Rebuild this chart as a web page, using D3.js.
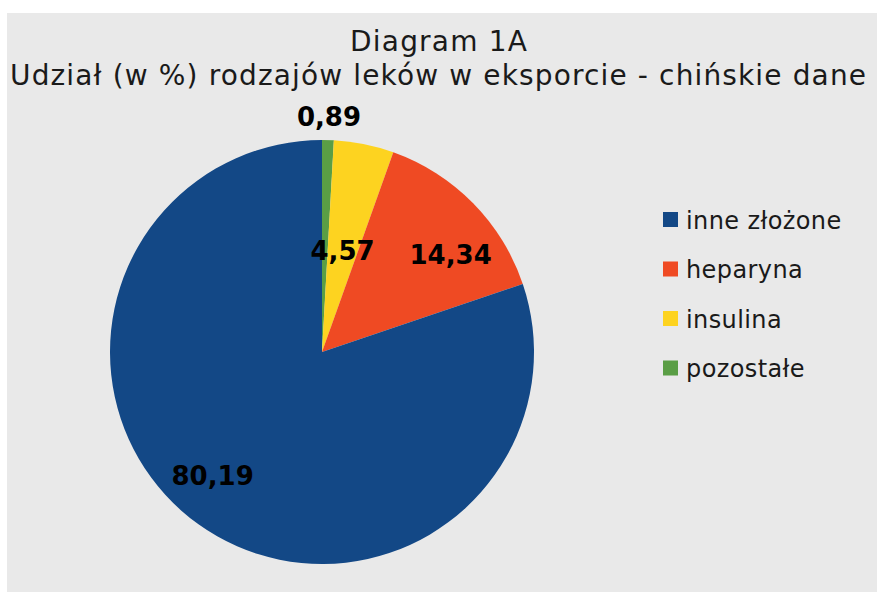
<!DOCTYPE html>
<html>
<head>
<meta charset="utf-8">
<script src="https://cdn.jsdelivr.net/npm/d3@7"></script>
<style>
  body { margin: 0; background: #fff; }
  svg { display: block; }
</style>
</head>
<body>
<div id="chart"></div>
<script>
// chart size
let svgWidth = 877;
let svgHeight = 593;

// data, in drawing order (clockwise from 12 o'clock)
let categories = ["pozostałe", "insulina", "heparyna", "inne złożone"];
let values = [0.89, 4.57, 14.34, 80.19];
let labels = ["0,89", "4,57", "14,34", "80,19"];
let colors = ["#5a9e45", "#fdd320", "#ef4a23", "#134886"];
// legend shows the reverse order
let legendOrder = ["inne złożone", "heparyna", "insulina", "pozostałe"];

// where each data label sits: fraction of radius, fraction of slice angle
let labelRadius = [1.11, 0.49, 0.76, 0.78];
let labelAngle = [0.53, 0.5, 0.645, 0.52];

let svg = d3.select("#chart")
    .append("svg")
    .attr("width", svgWidth)
    .attr("height", svgHeight);

// gray chart area
svg.append("rect")
    .attr("x", 7)
    .attr("y", 13)
    .attr("width", 870)
    .attr("height", 579)
    .attr("fill", "#e9e9e9");

let font = "'DejaVu Sans', Verdana, sans-serif";

// title
svg.append("text")
    .attr("x", 438.5)
    .attr("y", 51)
    .attr("text-anchor", "middle")
    .attr("textLength", 177)
    .attr("lengthAdjust", "spacing")
    .style("font-family", font)
    .style("font-size", "28px")
    .attr("fill", "#1a1a1a")
    .text("Diagram 1A");

svg.append("text")
    .attr("x", 438)
    .attr("y", 85)
    .attr("text-anchor", "middle")
    .attr("textLength", 856)
    .attr("lengthAdjust", "spacing")
    .style("font-family", font)
    .style("font-size", "28px")
    .attr("fill", "#1a1a1a")
    .text("Udział (w %) rodzajów leków w eksporcie - chińskie dane");

let cx = 322, cy = 352, radius = 212;

let data = categories.map((c, i) => ({ name: c, value: values[i], label: labels[i], color: colors[i], lr: labelRadius[i], la: labelAngle[i] }));

let pie = d3.pie()
    .sort(null)
    .value(d => d.value);

let arc = d3.arc()
    .innerRadius(0)
    .outerRadius(radius);

let pieGroup = svg.append("g")
    .attr("transform", `translate(${cx}, ${cy})`);

let arcs = pie(data);

pieGroup.selectAll("path")
    .data(arcs)
    .enter()
    .append("path")
    .attr("d", arc)
    .attr("fill", d => d.data.color);

// data labels
pieGroup.selectAll("text.lbl")
    .data(arcs)
    .enter()
    .append("text")
    .attr("class", "lbl")
    .attr("transform", d => {
        let a = d.startAngle + (d.endAngle - d.startAngle) * d.data.la;
        let r = radius * d.data.lr;
        return `translate(${r * Math.sin(a)}, ${-r * Math.cos(a)})`;
    })
    .attr("text-anchor", "middle")
    .attr("dy", "0.36em")
    .style("font-family", font)
    .style("font-size", "26px")
    .style("font-weight", "bold")
    .attr("fill", "#000")
    .text(d => d.data.label);

// legend
let legend = svg.append("g")
    .attr("transform", "translate(663, 220)");

let legendItems = legend.selectAll("g")
    .data(legendOrder)
    .enter()
    .append("g")
    .attr("transform", (d, i) => `translate(0, ${i * 49.5})`);

legendItems.append("rect")
    .attr("x", 0)
    .attr("y", -8)
    .attr("width", 15)
    .attr("height", 15)
    .attr("fill", d => colors[categories.indexOf(d)]);

legendItems.append("text")
    .attr("x", 23)
    .attr("y", 0)
    .attr("dy", "0.36em")
    .style("font-family", font)
    .style("font-size", "24px")
    .style("letter-spacing", "0.4px")
    .attr("fill", "#1a1a1a")
    .text(d => d);
</script>
</body>
</html>
